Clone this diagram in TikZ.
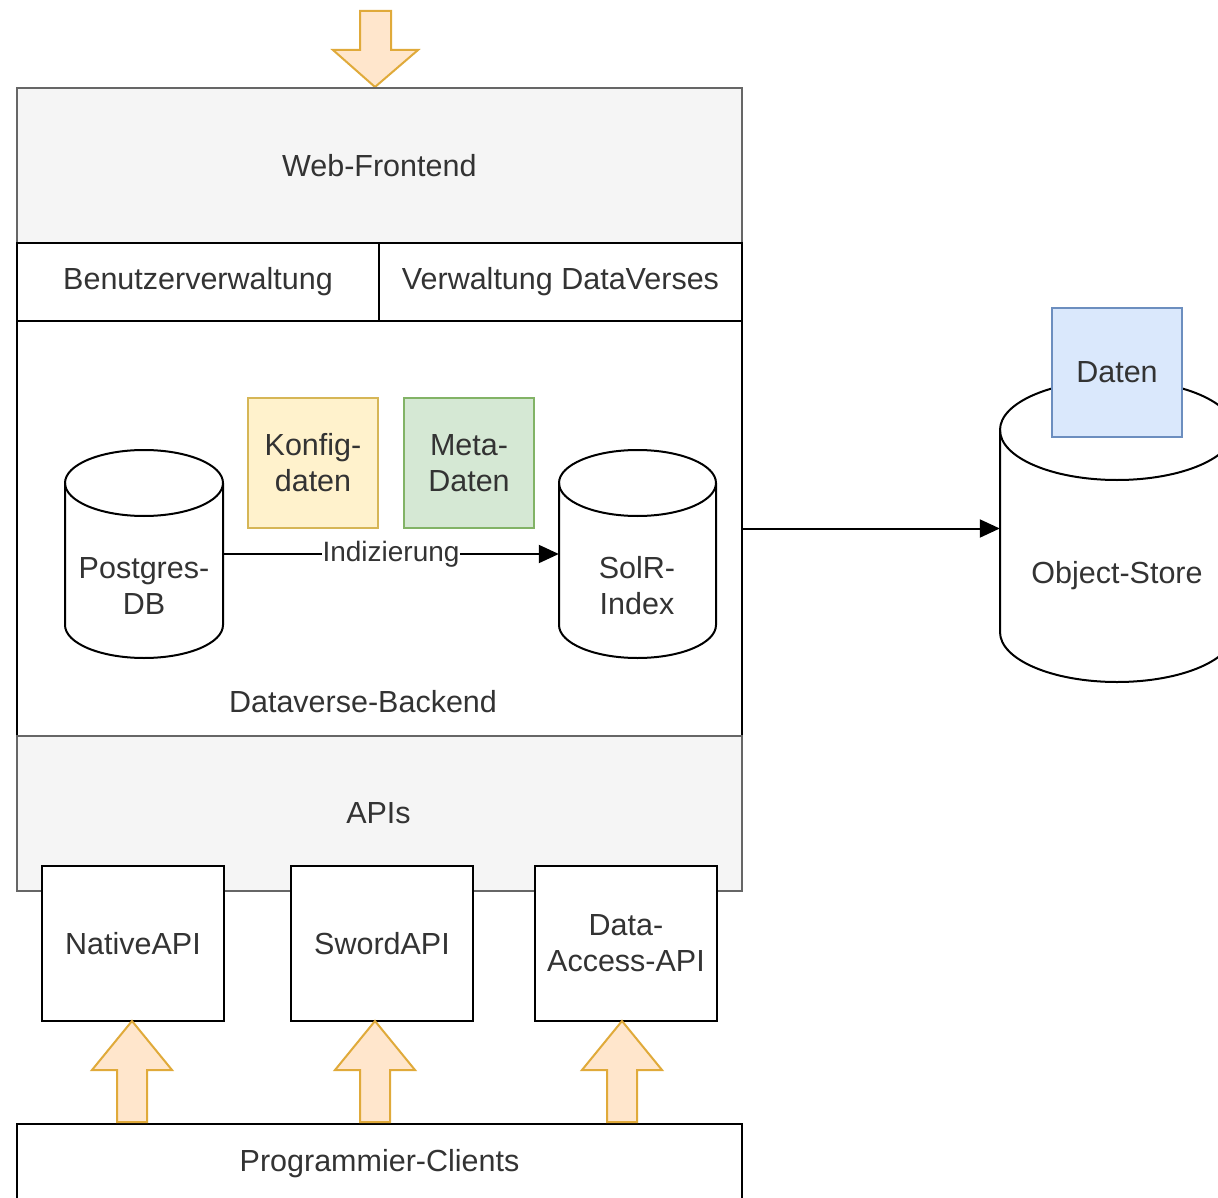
\documentclass[tikz,border=0pt]{standalone}
\usepackage{fontspec}
\setmainfont{Liberation Sans}
\usetikzlibrary{arrows.meta}
\definecolor{txt}{HTML}{333333}
\definecolor{grayfill}{HTML}{F5F5F5}
\definecolor{grayline}{HTML}{666666}
\definecolor{yelfill}{HTML}{FFF2CC}
\definecolor{yelline}{HTML}{D6B656}
\definecolor{grnfill}{HTML}{D5E8D4}
\definecolor{grnline}{HTML}{82B366}
\definecolor{bluefill}{HTML}{DAE8FC}
\definecolor{blueline}{HTML}{6C8EBF}
\definecolor{orfill}{HTML}{FFE6CC}
\definecolor{orline}{HTML}{E0AA3A}
\newcommand\blockup[1]{%
  \draw[bigarrow] ({#1-15},1122) -- ({#1-15},1070) -- ({#1-40},1070) -- (#1,1021)
    -- ({#1+40},1070) -- ({#1+15},1070) -- ({#1+15},1122) -- cycle;}
\begin{document}
\begin{tikzpicture}[x=1pt,y=-1pt,
  every node/.style={font=\fontsize{30.5}{36}\selectfont, text=txt, align=center, inner sep=0pt},
  box/.style={draw=black, line width=2pt, fill=white, anchor=north west},
  graybox/.style={draw=grayline, line width=1.6pt, fill=grayfill, anchor=north west},
  cylbox/.style={minimum width=#1, inner sep=0pt},
  cyl/.style={draw=black, line width=2pt, fill=white},
  bigarrow/.style={draw=orline, line width=2pt, fill=orfill, line join=miter},
  conn/.style={draw=black, line width=2pt, -{Triangle[length=20pt, width=18pt]}},
]
\useasboundingbox (0,0) rectangle (1218,1198);
\clip (0,0) rectangle (1218,1198);
\fill[white] (0,0) rectangle (1218,1198);

% top arrow
\draw[bigarrow] (360,11) -- (391,11) -- (391,50) -- (418,50) -- (375,87) -- (333,50) -- (360,50) -- cycle;

% frame boxes
\node[graybox, minimum width=725, minimum height=155] (web) at (16,87) {Web-Frontend};
\node[box, minimum width=362, minimum height=78] (benutzer) at (16,242) {Benutzerverwaltung};
\node[box, minimum width=363, minimum height=78] (verw) at (378,242) {Verwaltung DataVerses};
\node[box, minimum width=725, minimum height=415] (backend) at (16,320) {};
\node (backendlbl) at (363,702) {Dataverse-Backend};
\node[graybox, minimum width=725, minimum height=155] (apis) at (16,735) {};
\node (apislbl) at (378.5,813) {APIs};

% API boxes
\node[box, minimum width=182, minimum height=155] (native) at (41,865) {NativeAPI};
\node[box, minimum width=182, minimum height=155] (sword) at (290,865) {SwordAPI};
\node[box, minimum width=182, minimum height=155] (dapi) at (534,865) {Data-\\Access-API};

% clients
\node[box, minimum width=725, minimum height=80] (clients) at (16,1123) {Programmier-Clients};

% up arrows
\blockup{132}
\blockup{375}
\blockup{622}

% data boxes
\node[draw=yelline, fill=yelfill, line width=2pt, minimum width=130, minimum height=130] (konfig) at (313,463) {Konfig-\\daten};
\node[draw=grnline, fill=grnfill, line width=2pt, minimum width=130, minimum height=130] (meta) at (469,463) {Meta-\\Daten};

% Postgres cylinder
\node[minimum width=158, minimum height=208] (pg) at (144,554) {};
\draw[cyl] (65,483) -- (65,625) arc[start angle=180, end angle=360, x radius=79pt, y radius=33pt]
  -- (223,483) arc[start angle=0, end angle=180, x radius=79pt, y radius=33pt] -- cycle;
\draw[cyl, fill=none] (65,483) arc[start angle=180, end angle=360, x radius=79pt, y radius=33pt];
\node (pgtxt) at (144,586) {Postgres-\\DB};

% SolR cylinder
\node[minimum width=157, minimum height=208] (solr) at (637.5,554) {};
\draw[cyl] (559,483) -- (559,625) arc[start angle=180, end angle=360, x radius=78.5pt, y radius=33pt]
  -- (716,483) arc[start angle=0, end angle=180, x radius=78.5pt, y radius=33pt] -- cycle;
\draw[cyl, fill=none] (559,483) arc[start angle=180, end angle=360, x radius=78.5pt, y radius=33pt];
\node (solrtxt) at (637,586) {SolR-\\Index};

% Indizierung connector
\draw[conn] (pg.east) -- node[fill=white, inner sep=1pt, font=\fontsize{28}{32}\selectfont] (idx) {Indizierung} (solr.west);

% Object store cylinder
\node[minimum width=234, minimum height=302] (os) at (1117,531) {};
\draw[cyl] (1000,430) -- (1000,632) arc[start angle=180, end angle=360, x radius=117pt, y radius=50pt]
  -- (1234,430) arc[start angle=0, end angle=180, x radius=117pt, y radius=50pt] -- cycle;
\draw[cyl, fill=none] (1000,430) arc[start angle=180, end angle=360, x radius=117pt, y radius=50pt];
\node (ostxt) at (1117,576) {Object-Store};
\node[draw=blueline, fill=bluefill, line width=2pt, minimum width=130, minimum height=129] (daten) at (1117,372.5) {Daten};

% backend -> object store
\draw[conn] (backend.east) -- (backend.east -| os.west);
\end{tikzpicture}
\end{document}
